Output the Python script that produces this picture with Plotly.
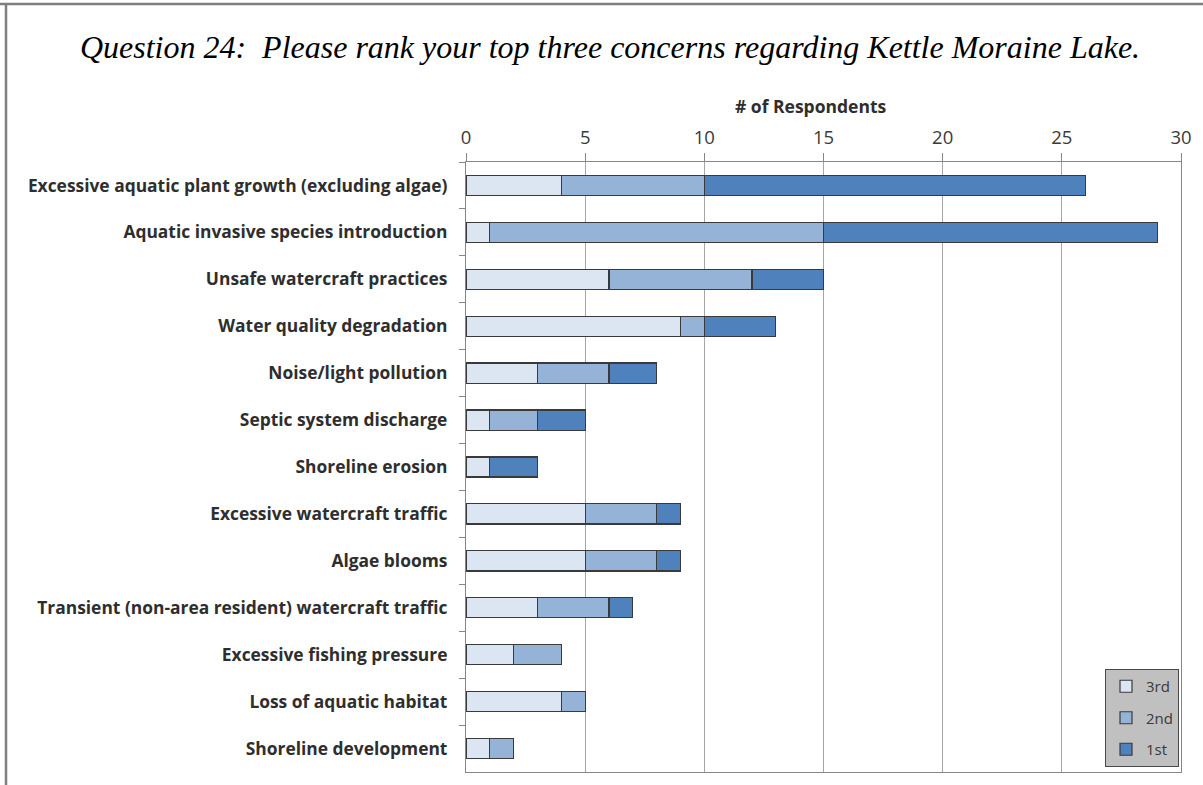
import plotly.graph_objects as go

categories = [
    "Excessive aquatic plant growth (excluding algae)",
    "Aquatic invasive species introduction",
    "Unsafe watercraft practices",
    "Water quality degradation",
    "Noise/light pollution",
    "Septic system discharge",
    "Shoreline erosion",
    "Excessive watercraft traffic",
    "Algae blooms",
    "Transient (non-area resident) watercraft traffic",
    "Excessive fishing pressure",
    "Loss of aquatic habitat",
    "Shoreline development",
]
third = [4, 1, 6, 9, 3, 1, 1, 5, 5, 3, 2, 4, 1]
second = [6, 14, 6, 1, 3, 2, 0, 3, 3, 3, 2, 1, 1]
first = [16, 14, 3, 3, 2, 2, 2, 1, 1, 1, 0, 0, 0]

series_names = ["3rd", "2nd", "1st"]
series_values = [third, second, first]
series_colors = ["#DCE6F2", "#95B3D7", "#4F81BD"]

x_ticks = [0, 5, 10, 15, 20, 25, 30]

W, H = 1203, 785
ML, MR, MT, MB = 466, 22, 162, 13
PW, PH = W - ML - MR, H - MT - MB

fig = go.Figure()
for name, vals, col in zip(series_names, series_values, series_colors):
    fig.add_trace(go.Bar(
        y=categories, x=vals, name=name, orientation="h",
        marker=dict(color=col, line=dict(color="#3A3A3A", width=1.2)),
        width=0.43, legendgroup=name,
    ))

label_font = "'Open Sans', sans-serif"

fig.update_layout(
    width=W, height=H,
    margin=dict(l=ML, r=MR, t=MT, b=MB, autoexpand=False),
    barmode="stack",
    plot_bgcolor="white", paper_bgcolor="white",
    title=dict(
        text="<i>Question 24:  Please rank your top three concerns regarding Kettle Moraine Lake.</i>",
        font=dict(family="Liberation Serif, serif", size=32, color="#000000"),
        x=610 / W, xanchor="center", y=1 - 47 / H, yanchor="middle",
    ),
    xaxis=dict(
        side="top", range=[0, 30], tickvals=x_ticks,
        showgrid=True, gridcolor="#A6A6A6", gridwidth=1.2,
        showline=True, linecolor="#868686", linewidth=1.2, mirror=True,
        ticks="outside", ticklen=8, tickcolor="#868686", tickwidth=1.2,
        tickfont=dict(family=label_font, size=18.5, color="#3A3A3A"),
        ticklabelstandoff=2,
        zeroline=False,
    ),
    yaxis=dict(
        autorange="reversed", type="category",
        showline=True, linecolor="#868686", linewidth=1.2, mirror=True,
        ticks="outside", tickson="boundaries", ticklen=6,
        tickcolor="#868686", tickwidth=1.2,
        tickfont=dict(family=label_font, size=17.4, color="#2E2E2E", weight="bold"),
        ticklabelstandoff=14,
        showgrid=False,
    ),
    legend=dict(
        x=(1105 - ML) / PW, y=(H - MB - 669) / PH, xanchor="left", yanchor="top",
        bgcolor="#C0C0C0", bordercolor="#4A4A4A", borderwidth=1,
        font=dict(family=label_font, size=15, color="#3A3A3A"),
        traceorder="grouped", tracegroupgap=9, itemwidth=30,
    ),
    bargap=0.57,
)

# Axis title placed above the top tick labels
fig.add_annotation(
    text="<b># of Respondents</b>", xref="paper", yref="paper",
    x=(811 - ML) / PW, y=(H - MB - 106) / PH, xanchor="center", yanchor="middle",
    showarrow=False, font=dict(family=label_font, size=17.5, color="#2E2E2E"),
)

# Outer frame lines along the top and left edges of the figure
frame_col = "#7F7F7F"
fig.add_shape(type="line", xref="paper", yref="paper",
              x0=(0 - ML) / PW, x1=(W - ML) / PW,
              y0=(H - MB - 4) / PH, y1=(H - MB - 4) / PH,
              line=dict(color=frame_col, width=2.5))
fig.add_shape(type="line", xref="paper", yref="paper",
              x0=(6 - ML) / PW, x1=(6 - ML) / PW,
              y0=(H - MB - 4) / PH, y1=(H - MB - H) / PH,
              line=dict(color=frame_col, width=2.5))

fig.write_html("out.html")
